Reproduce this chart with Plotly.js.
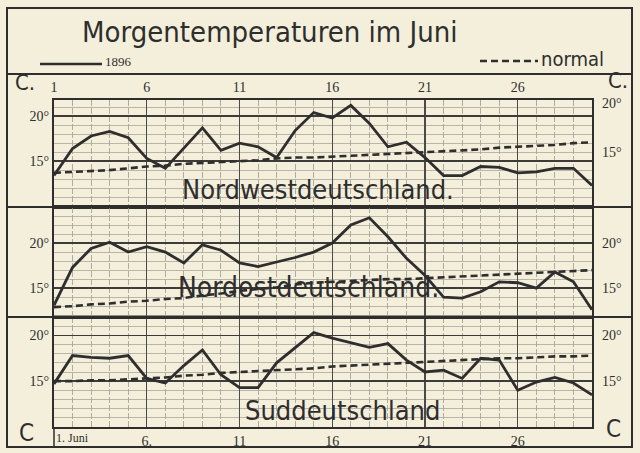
<!DOCTYPE html>
<html><head><meta charset="utf-8">
<script src="https://cdn.plot.ly/plotly-3.0.1.min.js"></script>
<style>html,body{margin:0;padding:0;background:#f3efda;}#chart{width:640px;height:453px;}</style>
</head><body><div id="chart"></div>
<script>
const days = [1,2,3,4,5,6,7,8,9,10,11,12,13,14,15,16,17,18,19,20,21,22,23,24,25,26,27,28,29,30];
const nwObserved = [13.4,16.4,17.8,18.3,17.6,15.3,14.2,16.4,18.7,16.2,17.0,16.6,15.4,18.4,20.4,19.8,21.2,19.2,16.6,17.1,15.4,13.4,13.4,14.4,14.3,13.7,13.8,14.2,14.2,12.3];
const nwNormal   = [13.7,13.8,13.9,14.0,14.2,14.4,14.5,14.7,14.8,14.9,15.0,15.1,15.3,15.4,15.4,15.5,15.6,15.7,15.8,15.9,16.0,16.1,16.2,16.3,16.5,16.6,16.7,16.8,17.0,17.1];
const noObserved = [13.1,17.3,19.4,20.1,19.0,19.6,19.0,17.8,19.8,19.2,17.8,17.4,17.9,18.4,19.0,20.0,22.0,22.8,20.7,18.3,16.4,14.0,13.9,14.6,15.7,15.6,15.0,16.8,15.7,12.6];
const noNormal   = [12.9,13.0,13.2,13.3,13.5,13.6,13.8,13.9,14.2,14.4,14.7,14.9,15.1,15.4,15.6,15.7,15.8,15.9,16.0,16.0,16.1,16.2,16.3,16.4,16.5,16.6,16.7,16.8,16.9,17.0];
const sdObserved = [14.7,17.8,17.6,17.5,17.8,15.3,14.8,16.7,18.4,15.7,14.3,14.3,17.0,18.7,20.3,19.7,19.2,18.7,19.1,17.3,16.0,16.2,15.3,17.5,17.3,14.0,14.9,15.4,14.8,13.5];
const sdNormal   = [15.0,15.0,15.1,15.1,15.2,15.3,15.4,15.6,15.7,15.9,16.0,16.1,16.2,16.3,16.4,16.6,16.7,16.8,16.9,17.0,17.1,17.2,17.3,17.4,17.5,17.5,17.6,17.7,17.7,17.8];
const panelNames = ['Nordwestdeutschland.', 'Nordostdeutschland.', 'Suddeutschland'];
const dayTickVals = [1,6,11,16,21,26];
const topTickText = ['1','6','11','16','21','26'];
const bottomTickText = ['','6.','11','16','21','26'];
const tempTickVals = [15,20];
const tempTickText = ['15°','20°'];
const seriesNames = ['1896','normal'];

const W = 640, H = 453;
const px = x => x / W;
const py = y => (H - y) / H;
const ink = '#2e2e2e';
const bg = '#f3efda';
const serif = 'Liberation Serif, DejaVu Serif, serif';
const narrow = 'Liberation Sans Narrow, DejaVu Sans Condensed, sans-serif';

const panels = [
  {obs: nwObserved, nor: nwNormal, xa: 'x2', ya: 'y',  range: [9.9, 21.8], dom: [py(207), py(100)]},
  {obs: noObserved, nor: noNormal, xa: 'x3', ya: 'y2', range: [11.8, 24.0], dom: [py(317), py(207)]},
  {obs: sdObserved, nor: sdNormal, xa: 'x',  ya: 'y3', range: [10.0, 22.0], dom: [py(427), py(317)]}
];

const traces = [];
panels.forEach(p => {
  traces.push({x: days, y: p.nor, xaxis: p.xa, yaxis: p.ya, mode: 'lines', name: seriesNames[1],
    line: {color: ink, width: 2.6, dash: '7px,4px'}, showlegend: false, hoverinfo: 'skip'});
  traces.push({x: days, y: p.obs, xaxis: p.xa, yaxis: p.ya, mode: 'lines', name: seriesNames[0],
    line: {color: ink, width: 2.8}, showlegend: false, hoverinfo: 'skip'});
});

const xdom = [px(54), px(592)];
const xbase = {
  range: [1, 30], domain: xdom, tickmode: 'array', tickvals: dayTickVals,
  showgrid: true, gridcolor: '#4a4a4a', gridwidth: 1.3, zeroline: false,
  minor: {tickmode: 'linear', tick0: 1, dtick: 1, showgrid: true, gridcolor: '#9c9a90', gridwidth: 0.8, griddash: '6px,2px'},
  showline: true, linecolor: ink, linewidth: 2, mirror: true, ticks: '',
  tickfont: {family: serif, size: 14, color: ink}, fixedrange: true
};
const ybase = {
  tickmode: 'array', tickvals: tempTickVals, ticktext: tempTickText,
  showgrid: true, gridcolor: '#3c3c3c', gridwidth: 1.6, zeroline: false,
  minor: {tickmode: 'linear', tick0: 0, dtick: 1, showgrid: true, gridcolor: '#a9a79b', gridwidth: 0.8},
  showline: true, linecolor: ink, linewidth: 2, mirror: true, ticks: '',
  tickfont: {family: serif, size: 14, color: ink}, fixedrange: true
};

function label(x, y, text, size, family, xanchor, xref, yref) {
  return {xref: xref || 'paper', yref: yref || 'paper', x: x, y: y, text: text, showarrow: false,
    xanchor: xanchor || 'center', yanchor: 'middle', font: {family: family, size: size, color: ink}};
}

const layout = {
  width: W, height: H, margin: {l: 0, r: 0, t: 0, b: 0},
  paper_bgcolor: bg, plot_bgcolor: bg, showlegend: false,
  xaxis:  Object.assign({}, xbase, {anchor: 'y3', side: 'bottom', ticktext: bottomTickText}),
  xaxis2: Object.assign({}, xbase, {anchor: 'y', side: 'top', ticktext: topTickText, matches: 'x'}),
  xaxis3: Object.assign({}, xbase, {anchor: 'y2', showticklabels: false, matches: 'x'}),
  yaxis:  Object.assign({}, ybase, {anchor: 'x2', domain: panels[0].dom, range: panels[0].range}),
  yaxis2: Object.assign({}, ybase, {anchor: 'x3', domain: panels[1].dom, range: panels[1].range}),
  yaxis3: Object.assign({}, ybase, {anchor: 'x',  domain: panels[2].dom, range: panels[2].range}),
  shapes: [
    {type: 'rect', xref: 'paper', yref: 'paper', x0: px(7), x1: px(632), y0: py(447), y1: py(8), line: {color: ink, width: 2}},
    {type: 'line', xref: 'paper', yref: 'paper', x0: px(7), x1: px(632), y0: py(74), y1: py(74), line: {color: ink, width: 2}},
    {type: 'line', xref: 'paper', yref: 'paper', x0: px(7), x1: px(632), y0: py(207), y1: py(207), line: {color: ink, width: 2.2}},
    {type: 'line', xref: 'paper', yref: 'paper', x0: px(7), x1: px(632), y0: py(317), y1: py(317), line: {color: ink, width: 2.2}},
    {type: 'line', xref: 'paper', yref: 'paper', x0: px(54), x1: px(54), y0: py(447), y1: py(427), line: {color: ink, width: 1.5}},
    {type: 'line', xref: 'paper', yref: 'paper', x0: px(40), x1: px(102), y0: py(64), y1: py(64), line: {color: ink, width: 2.6}},
    {type: 'line', xref: 'paper', yref: 'paper', x0: px(480), x1: px(538), y0: py(61), y1: py(61), line: {color: ink, width: 2.6, dash: '7px,4px'}},
    {type: 'rect', layer: 'between', xref: 'paper', yref: 'paper', x0: px(180), x1: px(458), y0: py(205), y1: py(175), fillcolor: bg, opacity: 0.85, line: {width: 0}},
    {type: 'rect', layer: 'between', xref: 'paper', yref: 'paper', x0: px(180), x1: px(437), y0: py(302), y1: py(273), fillcolor: bg, opacity: 0.6, line: {width: 0}},
    {type: 'rect', layer: 'between', xref: 'paper', yref: 'paper', x0: px(242), x1: px(442), y0: py(425), y1: py(394), fillcolor: bg, opacity: 0.85, line: {width: 0}}
  ],
  annotations: [
    label(px(270), py(32), 'Morgentemperaturen im Juni', 29, narrow),
    label(px(103), py(61), seriesNames[0], 13, serif, 'left'),
    label(px(539), py(59), seriesNames[1], 20, narrow, 'left'),
    label(px(25), py(82), 'C.', 22, narrow),
    label(px(618), py(80), 'C.', 22, narrow),
    label(px(26), py(433), 'C', 24, narrow),
    label(px(613), py(429), 'C', 24, narrow),
    label(1, py(438), '1. Juni', 12, serif, 'left', 'x'),
    label(px(318), py(189), panelNames[0], 27, narrow),
    label(px(308), py(287), panelNames[1], 28, narrow),
    label(px(342), py(410), panelNames[2], 27, narrow),
    label(px(600), py(103), tempTickText[1], 14, serif, 'left'),
    label(px(600), py(152), tempTickText[0], 14, serif, 'left')
  ]
};
panels.slice(1).forEach(p => {
  tempTickVals.forEach((v, i) => {
    layout.annotations.push(label(px(600), v, tempTickText[i], 14, serif, 'left', 'paper', p.ya));
  });
});

Plotly.newPlot('chart', traces, layout, {staticPlot: true, displayModeBar: false});
</script></body></html>
